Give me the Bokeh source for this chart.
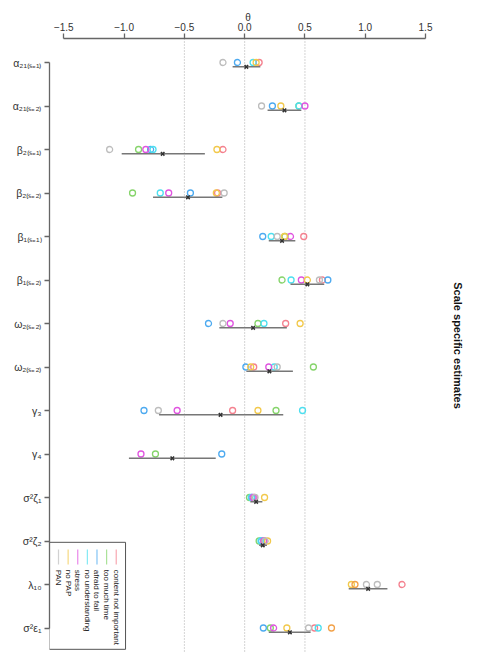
import math
from bokeh.plotting import figure
from bokeh.models import Range1d, FixedTicker, Span, Title
from bokeh.core.properties import value
from bokeh.embed import file_html
from bokeh.resources import INLINE

# ---------------- data ----------------
param_labels = ["α₂₁₍ₛ₌₁₎", "α₂₁₍ₛ₌₂₎", "β₂₍ₛ₌₁₎", "β₂₍ₛ₌₂₎", "β₁₍ₛ₌₁₎", "β₁₍ₛ₌₂₎",
                "ω₂₍ₛ₌₂₎", "ω₂₍ₛ₌₂₎", "γ₃", "γ₄", "σ²ζ₁", "σ²ζ₂", "λ₁₀", "σ²ε₁"]

estimate = [0.014, 0.33, -0.68, -0.47, 0.31, 0.52, 0.07, 0.205, -0.20, -0.60, 0.095, 0.15, 1.024, 0.375]
ci_low   = [-0.10, 0.19, -1.02, -0.76, 0.20, 0.38, -0.21, 0.014, -0.71, -0.96, 0.047, 0.12, 0.863, 0.20]
ci_high  = [0.13, 0.47, -0.33, -0.185, 0.42, 0.66, 0.35, 0.40, 0.32, -0.24, 0.147, 0.185, 1.184, 0.547]

N = None
content_not_important = [0.12, N, -0.18, -0.225, 0.49, 0.645, 0.34, 0.075, -0.10, N, 0.08, 0.16, 1.305, 0.58]
too_much_time         = [N, 0.45, -0.88, -0.93, 0.335, 0.31, 0.11, 0.57, 0.26, -0.74, 0.04, 0.12, N, 0.213]
afraid_to_fail        = [-0.06, 0.23, -0.78, -0.45, 0.15, 0.69, -0.30, 0.01, -0.835, -0.19, 0.06, 0.14, N, 0.155]
no_understanding      = [0.07, 0.45, -0.76, -0.70, 0.22, 0.385, 0.16, 0.245, 0.48, N, 0.055, 0.135, N, 0.61]
stress                = [N, 0.50, -0.82, -0.63, 0.38, 0.47, -0.12, 0.20, -0.56, -0.86, 0.07, 0.158, N, 0.24]
no_PAP                = [0.095, 0.30, -0.23, -0.235, 0.33, 0.52, 0.46, 0.05, 0.11, N, 0.165, 0.19, 0.885, 0.35]
PAN                   = [-0.18, 0.14, -1.12, -0.17, 0.27, 0.62, -0.18, 0.27, -0.716, N, 0.086, 0.17, 1.01, 0.53]
other_a               = [N, N, N, N, N, N, N, N, N, N, N, N, 0.915, 0.72]
other_b               = [N, N, N, N, N, N, N, N, N, N, N, N, 1.10, N]

group_names = ["content not important", "too much time", "afraid to fail", "no understanding",
               "stress", "no PAP", "PAN"]
group_values = [content_not_important, too_much_time, afraid_to_fail, no_understanding,
                stress, no_PAP, PAN]
group_colors = ["#F4818F", "#86D46B", "#4DAAF0", "#4EDFEF", "#E054E0", "#F2C94C", "#BDBDBD"]
extra_values = [other_a, other_b]
extra_colors = ["#F2A24A", "#BDBDBD"]

x_ticks = [-1.5, -1, -0.5, 0, 0.5, 1, 1.5]
x_tick_labels = ["−1.5", "−1.0", "−0.5", "0.0", "0.5", "1.0", "1.5"]
ref_lines = [-0.5, 0, 0.5]

rows = list(range(len(param_labels)))
ci_offset = 0.1

# ---------------- figure ----------------
p = figure(width=479, height=670, output_backend="svg", toolbar_location=None,
           x_axis_location="above",
           x_range=Range1d(-1.6187, 1.674), y_range=Range1d(13.563, -0.552),
           min_border_left=49, min_border_right=33, min_border_top=38, min_border_bottom=18)
p.outline_line_color = None
p.xgrid.visible = False
p.ygrid.visible = False

FONT = "Liberation Sans"
ax = p.xaxis[0]
ax.ticker = FixedTicker(ticks=x_ticks)
ax.major_label_overrides = dict(zip(x_ticks, x_tick_labels))
ax.bounds = (x_ticks[0], x_ticks[-1])
ax.major_tick_out = 5
ax.major_tick_in = 0
ax.minor_tick_out = 0
ax.minor_tick_in = 0
ax.axis_line_color = "#666666"
ax.axis_line_width = 1.3
ax.major_tick_line_color = "#666666"
ax.major_tick_line_width = 1.3
ax.major_label_text_font = FONT
ax.major_label_text_font_size = "10px"
ax.major_label_text_color = "#333333"
ax.major_label_standoff = 3
ax.axis_label = "θ"
ax.axis_label_text_font = FONT
ax.axis_label_text_font_style = "normal"
ax.axis_label_text_font_size = "10px"
ax.axis_label_text_color = "#333333"
ax.axis_label_standoff = -3

ay = p.yaxis[0]
ay.ticker = FixedTicker(ticks=rows)
ay.major_label_overrides = {r: lab for r, lab in zip(rows, param_labels)}
ay.bounds = (rows[0], rows[-1])
ay.major_tick_out = 5
ay.major_tick_in = 0
ay.minor_tick_out = 0
ay.minor_tick_in = 0
ay.axis_line_color = "#666666"
ay.axis_line_width = 1.3
ay.major_tick_line_color = "#666666"
ay.major_tick_line_width = 1.3
ay.major_label_text_font = FONT
ay.major_label_text_font_size = "10.5px"
ay.major_label_text_color = "#333333"
ay.major_label_standoff = 3

for v in ref_lines:
    p.add_layout(Span(location=v, dimension="height", line_color="#AAAAAA",
                      line_dash="1 2", line_width=1, level="underlay"))

def pts(vals):
    xs, ys = [], []
    for r, v in zip(rows, vals):
        if v is not None:
            xs.append(v)
            ys.append(r)
    return xs, ys

for vals, col in zip(group_values + extra_values, group_colors + extra_colors):
    xs, ys = pts(vals)
    p.scatter(x=xs, y=ys, marker="circle", size=6, fill_color=None,
              line_color=col, line_width=1.3)

ci_y = [r + ci_offset for r in rows]
p.segment(x0=ci_low, y0=ci_y, x1=ci_high, y1=ci_y, line_color="#777777", line_width=1.5)
p.scatter(x=estimate, y=ci_y, marker="x", size=5, line_color="#333333", line_width=1.5)

# ---------------- legend (rotated) ----------------
leg_left, leg_right = -1.621, -0.988
leg_top, leg_bottom = 11.03, 13.49
p.quad(left=[leg_left], right=[leg_right], top=[leg_top], bottom=[leg_bottom],
       fill_color="white", line_color="#555555", line_width=1)
leg_x0, leg_dx = -1.544, 0.0798
leg_order = list(reversed(range(len(group_names))))
lx = [leg_x0 + i * leg_dx for i in range(len(group_names))]
lnames = [group_names[k] for k in leg_order]
lcols = [group_colors[k] for k in leg_order]
p.segment(x0=lx, y0=[11.195] * len(lx), x1=lx, y1=[11.54] * len(lx),
          line_color=lcols, line_width=1.2, line_alpha=0.7)
p.text(x=lx, y=[11.66] * len(lx), text=lnames, angle=-math.pi / 2,
       text_align="left", text_baseline="middle", text_font=value(FONT),
       text_font_size="8px", text_color="#222222")

t = Title(text="Scale specific estimates", align="center", text_font=FONT,
          text_font_style="bold", text_font_size="11px", text_color="#111111")
p.add_layout(t, "right")

open("out.html", "w").write(file_html(p, INLINE))
